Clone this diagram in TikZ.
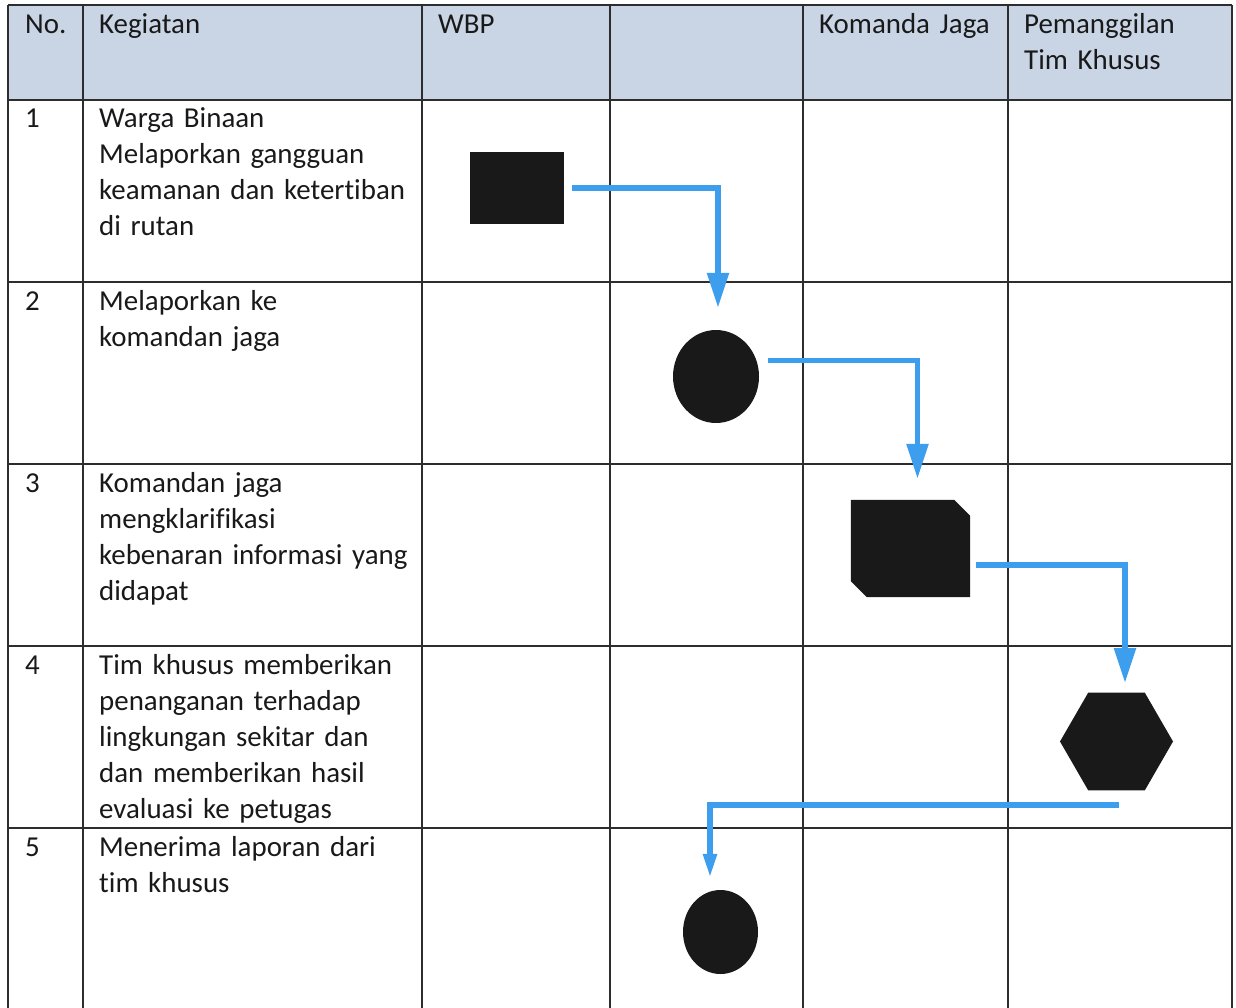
\documentclass[tikz,border=0pt]{standalone}
\usepackage{fontspec}
\setmainfont{Carlito}[Ligatures={NoCommon}]
\usetikzlibrary{arrows.meta,shapes.geometric,calc}
\definecolor{hdr}{RGB}{201,213,229}
\definecolor{flowblue}{RGB}{62,158,238}
\definecolor{gridc}{RGB}{45,45,45}
\definecolor{ink}{RGB}{25,25,25}
\begin{document}
\begin{tikzpicture}[x=1pt,y=-1pt,
  txt/.style={anchor=base west,inner sep=0pt,align=left,text width=320pt,
              font=\fontsize{28.9}{36}\selectfont,text=ink},
  gridline/.style={draw=gridc,line width=1.1pt},
  blk/.style={fill=ink,draw=none,inner sep=0pt},
  holder/.style={draw=none,fill=none,inner sep=0pt,rectangle},
  flow/.style={draw=flowblue,line width=5.5pt,line join=miter,
               -{Triangle[length=35pt,width=21pt]}},
  flowsmall/.style={draw=flowblue,line width=5.5pt,line join=miter,
               -{Triangle[length=24pt,width=13pt]}}
]
\useasboundingbox (0,0) rectangle (1236,1008);
\fill[white] (0,0) rectangle (1236,1008);
% header background
\fill[hdr] (8,5) rectangle (1232,100);
% grid
\foreach \yy in {5,100,282,464,646,828}{
  \draw[gridline] (8,\yy) -- (1232,\yy);
}
\foreach \xx in {8,83,422,610,803,1008,1232}{
  \draw[gridline] (\xx,5) -- (\xx,1008);
}
% header text
\node[txt] (hno) at (25,34) {No.};
\node[txt] (hkeg) at (99,34) {Kegiatan};
\node[txt] (hwbp) at (438,34) {WBP};
\node[txt] (hkom) at (819,34) {Komanda Jaga};
\node[txt] (htim) at (1024,34) {Pemanggilan\\Tim Khusus};
% row texts
\node[txt] (n1) at (25,128) {1};
\node[txt] (k1) at (99,128) {Warga Binaan\\Melaporkan gangguan\\keamanan dan ketertiban\\di rutan};
\node[txt] (n2) at (25,310) {2};
\node[txt] (k2) at (99,310) {Melaporkan ke\\komandan jaga};
\node[txt] (n3) at (25,492) {3};
\node[txt] (k3) at (99,492) {Komandan jaga\\mengklarifikasi\\kebenaran informasi yang\\didapat};
\node[txt] (n4) at (25,674) {4};
\node[txt] (k4) at (99,674) {Tim khusus memberikan\\penanganan terhadap\\lingkungan sekitar dan\\dan memberikan hasil\\evaluasi ke petugas};
\node[txt] (n5) at (25,856) {5};
\node[txt] (k5) at (99,856) {Menerima laporan dari\\tim khusus};
% shapes
\node[blk,rectangle,minimum width=94pt,minimum height=72pt] (s1) at (517,188) {};
\node[blk,ellipse,minimum width=86pt,minimum height=93pt] (c2) at (716,376.5) {};
\node[holder,minimum width=119pt,minimum height=97pt] (s3) at (910.5,548.5) {};
\fill[ink] (s3.north west) -- ($(s3.north east)+(-16,0)$) -- ($(s3.north east)+(0,16)$)
   -- (s3.south east) -- ($(s3.south west)+(16,0)$) -- ($(s3.south west)+(0,-16)$) -- cycle;
\node[blk,regular polygon,regular polygon sides=6,minimum size=113pt] (h4) at (1116.5,741.5) {};
\node[blk,ellipse,minimum width=75pt,minimum height=84pt] (e5) at (720.5,932) {};
% connectors
\draw[flow] ($(s1.east)+(8,0)$) -| ($(c2.north)+(2,-22)$);
\draw[flow] ($(c2.east)+(9,-16)$) -| ($(s3.north)+(7,-21)$);
\draw[flow] ($(s3.east)+(6,16.5)$) -| ($(h4.center)+(8.5,-58.5)$);
\draw[flowsmall] ($(h4.center)+(2.5,63.5)$) -| ($(e5.north)+(-10.5,-12)$);
\end{tikzpicture}
\end{document}
